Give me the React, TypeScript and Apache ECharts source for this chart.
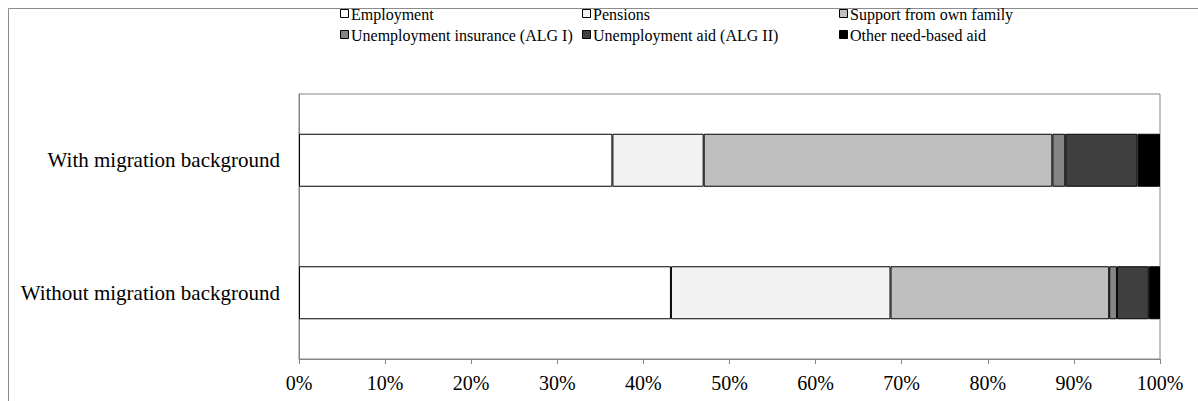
import React, { useEffect, useRef } from "react";
import * as echarts from "echarts";

const categories = ["With migration background", "Without migration background"];
const seriesNames = [
  "Employment",
  "Pensions",
  "Support from own family",
  "Unemployment insurance (ALG I)",
  "Unemployment aid (ALG II)",
  "Other need-based aid",
];
const employment = [36.4, 43.2];
const pensions = [10.6, 25.5];
const ownFamily = [40.5, 25.4];
const algI = [1.5, 0.9];
const algII = [8.4, 3.7];
const otherAid = [2.6, 1.3];
const xTicks = [0, 10, 20, 30, 40, 50, 60, 70, 80, 90, 100];

const colors = ["#ffffff", "#f2f2f2", "#bfbfbf", "#858585", "#404040", "#000000"];
const FONT = "Liberation Serif";

export default function App() {
  const ref = useRef<HTMLDivElement>(null);
  useEffect(() => {
    if (!ref.current) return;
    const chart = echarts.init(ref.current, null, { renderer: "svg" });
    const values = [employment, pensions, ownFamily, algI, algII, otherAid];
    const colX = [340, 582, 839];
    const rowY = [14, 35];
    const legendGraphics: any[] = [];
    seriesNames.forEach((n, i) => {
      const x = colX[i % 3];
      const y = rowY[Math.floor(i / 3)];
      legendGraphics.push({
        type: "rect",
        shape: { x: x + 0.5, y: y - 4.5, width: 8, height: 8 },
        style: { fill: colors[i], stroke: "#000", lineWidth: 1 },
        silent: true,
      });
      legendGraphics.push({
        type: "text",
        x: x + 11,
        y: y,
        style: {
          text: n,
          font: "16px 'Liberation Serif', serif",
          fontFamily: "Liberation Serif",
          fontSize: 16,
          fill: "#000",
          align: "left",
          verticalAlign: "middle",
        },
        silent: true,
      });
    });
    chart.setOption({
      animation: false,
      backgroundColor: "#ffffff",
      textStyle: { fontFamily: FONT },
      graphic: [
        {
          type: "rect",
          shape: { x: 8.5, y: 8.5, width: 1400, height: 600 },
          style: { fill: "none", stroke: "#8c8c8c", lineWidth: 1 },
          silent: true,
        },
        ...legendGraphics,
      ],
      grid: {
        left: 299,
        right: 38,
        top: 94,
        bottom: 42,
        show: true,
        borderColor: "#868686",
        borderWidth: 1,
      },
      xAxis: {
        type: "value",
        min: 0,
        max: 100,
        interval: 10,
        axisLine: { show: true, lineStyle: { color: "#868686" } },
        axisTick: { show: true, length: 5, lineStyle: { color: "#868686" } },
        splitLine: { show: false },
        axisLabel: {
          formatter: (v: number) => (xTicks.includes(v) ? v + "%" : ""),
          fontFamily: FONT,
          fontSize: 20,
          color: "#000",
          margin: 14,
        },
      },
      yAxis: {
        type: "category",
        data: categories,
        inverse: true,
        axisLine: { show: true, lineStyle: { color: "#868686" } },
        axisTick: { show: false },
        axisLabel: { fontFamily: FONT, fontSize: 21, color: "#000", margin: 19 },
      },
      series: seriesNames.map((n, i) => ({
        name: n,
        type: "bar",
        stack: "total",
        data: values[i],
        barWidth: 53,
        itemStyle: { color: colors[i], borderColor: "#000", borderWidth: 1 },
      })),
    });
    return () => chart.dispose();
  }, []);
  return (
    <div
      ref={ref}
      style={{ position: "fixed", left: 0, top: 0, width: 1198, height: 401 }}
    />
  );
}
